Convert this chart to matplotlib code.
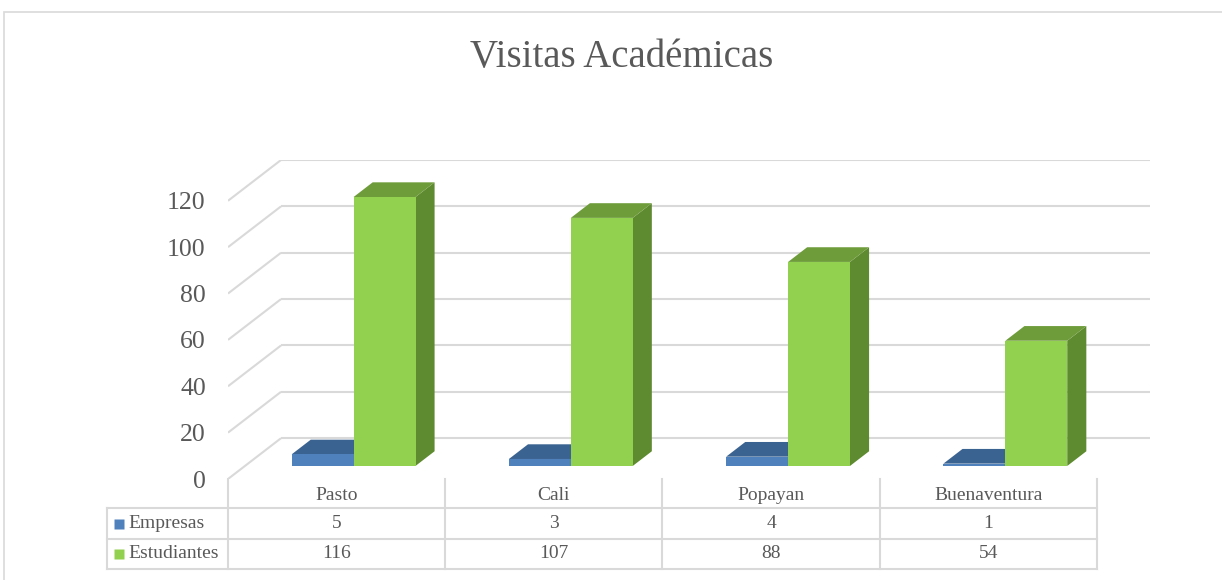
import numpy as np
import matplotlib
matplotlib.use('Agg')
import matplotlib.pyplot as plt
from matplotlib.patches import Polygon, Rectangle
import matplotlib.transforms as mtransforms

# =======================
# Data
# =======================
categories = ['Pasto', 'Cali', 'Popayan', 'Buenaventura']
series_names = ['Empresas', 'Estudiantes']
empresas = [5, 3, 4, 1]
estudiantes = [116, 107, 88, 54]
yticks = [0, 20, 40, 60, 80, 100, 120]
title = 'Visitas Académicas'

# =======================
# Style
# =======================
plt.rcParams['font.family'] = ['Liberation Serif', 'DejaVu Serif']
text_color = '#595959'
grid_color = '#D9D9D9'
face_colors = {'Empresas': ('#4F81BD', '#3B6391', '#2F5078'),
               'Estudiantes': ('#92D050', '#6E9C3A', '#5E8A30')}  # front, top, side

DX = 0.244      # depth of the wall in x (category units)
DY = 17.6       # depth of the wall in y (value units)
bar_w = 0.285   # bar width (category units)
d0, d1 = 0.32, 0.68   # depth range occupied by the bars


def proj(x, y, d):
    return (x + d * DX, y + d * DY)


fig = plt.figure(figsize=(12.22, 5.80), dpi=100)
W, H = 1222, 580
# axes placed in pixels: front plane x 228..1150, y 479..160
ax = fig.add_axes([228 / W, (H - 479) / H, (1150 - 228) / W, (479 - 160) / H])
n = len(categories)
ax.set_xlim(0, n + DX)
ax.set_ylim(0, max(yticks) + DY)
for s in ax.spines.values():
    s.set_visible(False)
ax.set_xticks([])

# gridlines: back wall and left wall
for t in yticks:
    bx, by = proj(0, t, 1)
    ax.plot([0, bx], [t, by], color=grid_color, lw=1.5, solid_capstyle='butt', zorder=1)
    ax.plot([bx, n + DX], [by, by], color=grid_color, lw=1.5, solid_capstyle='butt', zorder=1)

ax.set_yticks(yticks)
ax.set_yticklabels([str(t) for t in yticks])
ax.tick_params(axis='y', length=0, pad=16, labelsize=18.5, labelcolor=text_color)


def draw_bar(x0, x1, h, colors):
    front, top, side = colors
    fl = proj(x0, 0, d0); fr = proj(x1, 0, d0)
    tl = proj(x0, h, d0); tr = proj(x1, h, d0)
    btl = proj(x0, h, d1); btr = proj(x1, h, d1)
    br = proj(x1, 0, d1)
    ax.add_patch(Polygon([fr, br, btr, tr], closed=True, facecolor=side, edgecolor='none', zorder=3))
    ax.add_patch(Polygon([tl, tr, btr, btl], closed=True, facecolor=top, edgecolor='none', zorder=3))
    ax.add_patch(Polygon([fl, fr, tr, tl], closed=True, facecolor=front, edgecolor='none', zorder=3))


for i in range(n):
    c = i + 0.5
    draw_bar(c - bar_w, c, empresas[i], face_colors['Empresas'])
    draw_bar(c, c + bar_w, estudiantes[i], face_colors['Estudiantes'])

# =======================
# Data table under the plot
# =======================
tr_px = mtransforms.blended_transform_factory(ax.transData, fig.transFigure)
tr_fig = fig.transFigure
row_y = [479, 508, 539, 569]   # pixel rows of the table
yf = [(H - r) / H for r in row_y]
left_px = 107
lc = grid_color
lw = 1.5
fs = 14

# vertical lines
for j in range(n + 1):
    ax.plot([j, j], [yf[0], yf[3]], transform=tr_px, color=lc, lw=lw, clip_on=False)
fig.add_artist(plt.Line2D([left_px / W, left_px / W], [yf[1], yf[3]], transform=tr_fig, color=lc, lw=lw))
# horizontal lines
for k in (1, 2, 3):
    fig.add_artist(plt.Line2D([left_px / W, 1097 / W], [yf[k], yf[k]], transform=tr_fig, color=lc, lw=lw))

for i, cat in enumerate(categories):
    ax.text(i + 0.5, (yf[0] + yf[1]) / 2 - 0.004, cat, transform=tr_px, ha='center', va='center',
            fontsize=fs, color=text_color, clip_on=False)
    ax.text(i + 0.5, (yf[1] + yf[2]) / 2, str(empresas[i]), transform=tr_px, ha='center', va='center',
            fontsize=fs, color=text_color, clip_on=False)
    ax.text(i + 0.5, (yf[2] + yf[3]) / 2, str(estudiantes[i]), transform=tr_px, ha='center', va='center',
            fontsize=fs, color=text_color, clip_on=False)

# legend keys inside the row labels
for k, name in enumerate(series_names):
    ym = (yf[k + 1] + yf[k + 2]) / 2
    fig.add_artist(plt.Line2D([119 / W], [ym], transform=tr_fig, marker='s', markersize=7.2,
                              markerfacecolor=face_colors[name][0], markeredgecolor='none',
                              linestyle='none'))
    fig.text(128 / W, ym, name, color=text_color, fontsize=fs, ha='left', va='center')

# outer frame and title
fig.add_artist(Rectangle((4 / W, -0.05), 1.1, (H - 12) / H + 0.05, transform=tr_fig,
                         fill=False, edgecolor='#D9D9D9', lw=1.2))
fig.text(0.5 * (470 + 773) / W, (H - 58) / H, title, ha='center', va='center',
         fontsize=28, color=text_color)

fig.savefig('out.png', dpi=100)
